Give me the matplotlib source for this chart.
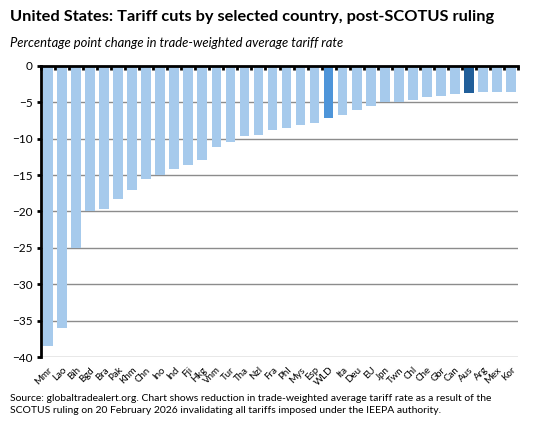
import matplotlib.pyplot as plt
import numpy as np

paises = ['Mmr', 'Lao', 'Bih', 'Bgd', 'Bra', 'Pak', 'Khm', 'Chn', 'Ino', 'Ind', 'Fji',
          'Hkg', 'Vnm', 'Tur', 'Tha', 'Nzl', 'Fra', 'Phl', 'Mys', 'Esp', 'WLD', 'Ita',
          'Deu', 'EU', 'Jpn', 'Twn', 'Chl', 'Che', 'Gbr', 'Can', 'Aus', 'Arg', 'Mex', 'Kor']
cambios = [-38.5, -36.0, -25.0, -19.9, -19.6, -18.3, -17.0, -15.6, -15.0, -14.1, -13.6,
           -12.9, -11.2, -10.5, -9.7, -9.45, -8.8, -8.55, -8.1, -7.8, -7.2, -6.7,
           -6.05, -5.5, -4.9, -4.9, -4.7, -4.25, -4.1, -3.85, -3.7, -3.55, -3.55, -3.55]
resaltados = {'WLD': '#4E95D9', 'Aus': '#215F9A'}

plt.rcParams['font.family'] = ['Lato', 'DejaVu Sans']

fig = plt.figure(figsize=(5.48, 4.36), dpi=100)
ax = fig.add_axes([0.0748, 0.181, 0.8705, 0.668])

x = np.arange(len(paises))
colores = [resaltados.get(p, '#A6CAEC') for p in paises]
ax.bar(x, cambios, width=0.69, color=colores, zorder=2)

ax.set_xlim(-0.5, len(paises) - 0.5)
ax.set_ylim(-40, 0)
ax.set_yticks(range(-40, 1, 5))
ax.yaxis.grid(True, color='#8C8C8C', linewidth=1, zorder=1)
ax.set_axisbelow(True)

for s in ['right', 'bottom']:
    ax.spines[s].set_visible(False)
ax.spines['top'].set_linewidth(2)
ax.spines['top'].set_zorder(3)
ax.spines['left'].set_linewidth(2)

ax.set_xticks(x)
ax.set_xticklabels(paises, rotation=45, ha='right', rotation_mode='anchor', fontsize=7)
ax.tick_params(axis='x', which='major', length=0, pad=6, bottom=True, top=False)
ax.set_xticks(np.arange(-0.5, len(paises), 1), minor=True)
ax.tick_params(axis='x', which='minor', top=True, bottom=False, direction='in', length=3, width=2)
ax.tick_params(axis='y', length=3, width=2, labelsize=8.5, pad=3)

fig.text(0.018, 0.962, 'United States: Tariff cuts by selected country, post-SCOTUS ruling',
         fontsize=11.8, fontweight='bold', va='center')
fig.text(0.018, 0.902, 'Percentage point change in trade-weighted average tariff rate',
         fontsize=9.4, style='italic', va='center')
fig.text(0.018, 0.072, 'Source: globaltradealert.org. Chart shows reduction in trade-weighted average tariff rate as a result of the\n'
         'SCOTUS ruling on 20 February 2026 invalidating all tariffs imposed under the IEEPA authority.',
         fontsize=7.5, va='center', linespacing=1.45)

plt.savefig('out.png', dpi=100)
